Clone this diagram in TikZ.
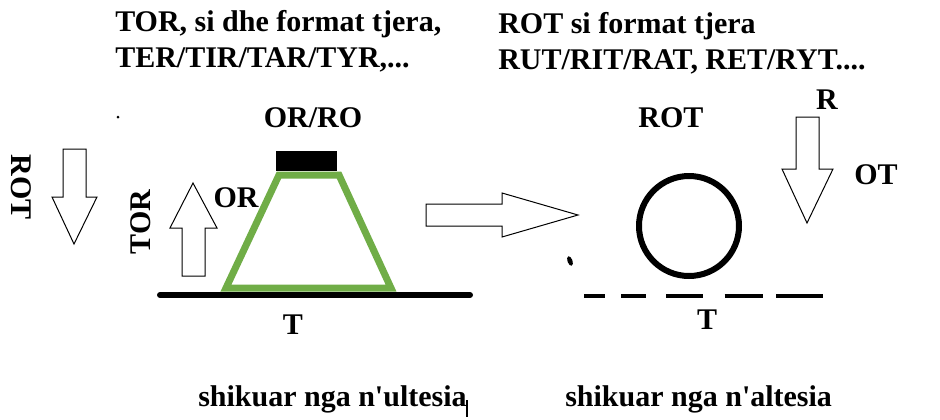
\documentclass[tikz,border=0pt]{standalone}
\usepackage{fontspec}
\usepackage{xcolor}
\usepackage{tikz}
\setmainfont{Liberation Serif}
\definecolor{figGreen}{HTML}{70AD47}

\begin{document}
\begin{tikzpicture}[
  x=0.75pt, y=-0.75pt,
  every node/.style={font=\fontsize{22.5}{27}\selectfont\bfseries, inner sep=0pt},
  ttl/.style={anchor=base west},
  hollow/.style={draw=black, fill=white, line width=0.75pt, line join=miter},
  grnd/.style={line width=4.5pt, line cap=round},
  dashln/.style={line width=3pt, dash pattern={on 16pt off 12pt on 18.75pt off 15pt on 27.5pt off 16.25pt on 28.75pt off 10pt on 35pt off 10pt}},
]
\useasboundingbox (0,0) rectangle (940,419);

% Titles
\node[ttl] (titleL1) at (115,31) {TOR, si dhe format tjera,};
\node[ttl] (titleL2) at (115,67) {TER/TIR/TAR/TYR,...};
\node[ttl] (titleR1) at (498,33) {ROT si format tjera};
\node[ttl] (titleR2) at (498,69) {RUT/RIT/RAT, RET/RYT....};

% Left view
\fill (118,117) circle [radius=1.5];
\node[rotate=-90] (rotL) at (21,187) {ROT};
\draw[hollow] (63,149) -- (86,149) -- (86,197) -- (97,197) -- (74,244)
  -- (52,197) -- (63,197) -- cycle;
\node[rotate=90] (torL) at (141,222) {TOR};
\draw[hollow] (182,276) -- (205,276) -- (205,228) -- (217,228) -- (193,183)
  -- (170,228) -- (182,228) -- cycle;
\node (orL) at (236,198) {OR};
\node (orro) at (313,118) {OR/RO};
\fill (276,151) rectangle (337,171);
\draw[figGreen, line width=5.25pt, line join=miter]
  (279,175) -- (339,175) -- (391,288) -- (226,288) -- cycle;
\draw[grnd] (160,295) -- (470,295);
\node (tL) at (293,325) {T};

% Arrow between the two views
\draw[hollow] (426,204) -- (502,204) -- (502,193) -- (578,215) -- (502,237)
  -- (502,226) -- (426,226) -- cycle;

% Right view
\fill[rotate around={20:(570,261)}] (570,261) ellipse [x radius=2.5, y radius=5];
\node (rotR) at (671,118) {ROT};
\draw[line width=4.5pt] (689,226) circle [radius=50];
\draw[dashln] (584,296) -- (823,296);
\node (tR) at (707,320) {T};
\node (rR) at (827,100) {R};
\draw[hollow] (796,117) -- (819,117) -- (819,169) -- (833,169) -- (807,223)
  -- (782,169) -- (796,169) -- cycle;
\node (otR) at (876,175) {OT};

% Bottom captions
\node[ttl] (capL) at (198,406) {shikuar nga n\textquotesingle ultesia};
\draw[line width=1pt] (467,400) -- (467,417);
\node[ttl] (capR) at (565,406) {shikuar nga n\textquotesingle altesia};

\end{tikzpicture}
\end{document}
